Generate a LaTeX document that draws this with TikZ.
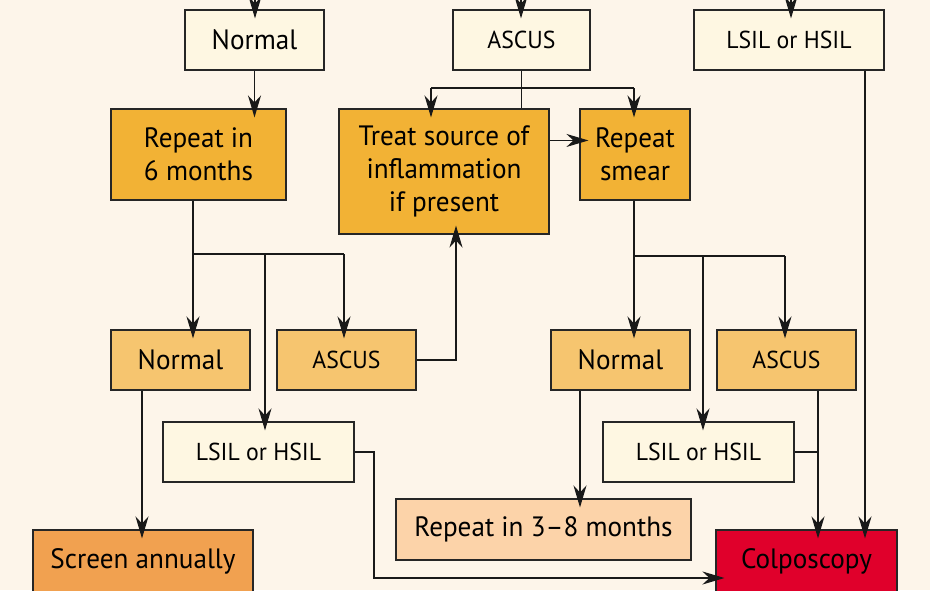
\documentclass[tikz,border=0pt]{standalone}
\usepackage{fontspec}
\setmainfont{PT Sans}[FakeStretch=0.97]
\usetikzlibrary{arrows.meta,calc}
\definecolor{bgc}{HTML}{FDF5EA}
\definecolor{lightc}{HTML}{FEF7E2}
\definecolor{darkc}{HTML}{F2B235}
\definecolor{midc}{HTML}{F6C56F}
\definecolor{screenc}{HTML}{F1A150}
\definecolor{peachc}{HTML}{FCD3A9}
\definecolor{redc}{HTML}{E0002B}
\tikzset{
  box/.style={draw=black!85, line width=1.1pt, inner sep=0pt, align=center,
    font=\fontsize{28}{33}\selectfont},
  smallbox/.style={box, font=\fontsize{24.5}{28}\selectfont},
  conn/.style={draw=black!90, line width=1.2pt},
  arr/.style={conn, -{Stealth[length=22pt,width=13pt,inset=7pt]}, shorten >=-9pt},
}
\begin{document}
\begin{tikzpicture}[x=1pt,y=-1pt]
\useasboundingbox (0,0) rectangle (930,590);
\clip (0,0) rectangle (930,590);
\fill[bgc] (0,0) rectangle (930,590);

% top row
\node[box, fill=lightc, minimum width=139pt, minimum height=60pt] (n1) at (254.5,40) {Normal};
\node[smallbox, fill=lightc, minimum width=137pt, minimum height=60pt] (a1) at (521.5,40) {ASCUS};
\node[smallbox, fill=lightc, minimum width=190pt, minimum height=60pt] (l1) at (789,40) {LSIL or HSIL};
% second row
\node[box, fill=darkc, minimum width=175pt, minimum height=91pt] (r6) at (198.5,154.5) {Repeat in\\6 months};
\node[box, fill=darkc, minimum width=210pt, minimum height=125pt] (tr) at (444,171.5) {Treat source of\\inflammation\\if present};
\node[box, fill=darkc, minimum width=110pt, minimum height=91pt] (rs) at (635,154.5) {Repeat\\smear};
% third row
\node[box, fill=midc, minimum width=139pt, minimum height=60pt] (nl) at (180.5,360) {Normal};
\node[smallbox, fill=midc, minimum width=139pt, minimum height=60pt] (al) at (346.5,360) {ASCUS};
\node[box, fill=midc, minimum width=139pt, minimum height=60pt] (nr) at (620.5,360) {Normal};
\node[smallbox, fill=midc, minimum width=139pt, minimum height=60pt] (ar) at (786.5,360) {ASCUS};
% fourth row
\node[smallbox, fill=lightc, minimum width=191pt, minimum height=60pt] (ll) at (258.5,452) {LSIL or HSIL};
\node[smallbox, fill=lightc, minimum width=191pt, minimum height=60pt] (lr) at (698.5,452) {LSIL or HSIL};
% bottom
\node[box, fill=peachc, minimum width=295pt, minimum height=61pt] (r38) at (543.5,529.5) {Repeat in 3--8 months};
\node[box, fill=screenc, minimum width=220pt, minimum height=62pt] (sa) at (143,561) {Screen annually};
\node[box, fill=redc, minimum width=181pt, minimum height=62pt] (co) at (806.5,561) {Colposcopy};

% coordinates
\coordinate (t1) at (255,-5);
\coordinate (t2) at (521,-5);
\coordinate (t3) at (791,-5);
\coordinate (aL) at (431,88);
\coordinate (aR) at (634,88);
\coordinate (trA) at ([yshift=-32pt]tr.north east);
\coordinate (b1) at (193,254);
\coordinate (b2) at (265,254);
\coordinate (b3) at (344,254);
\coordinate (c1) at (456,358);
\coordinate (d1) at (374,578);
\coordinate (e1) at (142,0);
\coordinate (f1) at (634,256);
\coordinate (f2) at (703,256);
\coordinate (f3) at (785,256);
\coordinate (g1) at (580,0);
\coordinate (h1) at (818,0);
\coordinate (k1) at (865,0);

% top entries
\draw[arr] (t1) -- (t1 |- n1.north);
\draw[arr] (t2) -- (t2 |- a1.north);
\draw[arr] (t3) -- (t3 |- l1.north);

\draw[arr] (n1.south) -- (n1.south |- r6.north);
\draw[conn] (a1.south) -- (a1.south |- tr.north);
\draw[conn] (aL) -- (aR);
\draw[arr] (aL) -- (aL |- tr.north);
\draw[arr] (aR) -- (aR |- rs.north);
\draw[arr] (trA) -- (trA -| rs.west);

% left branch
\draw[conn] (b1 |- r6.south) -- (b1) -- (b3);
\draw[arr] (b1) -- (b1 |- nl.north);
\draw[arr] (b2) -- (b2 |- ll.north);
\draw[arr] (b3) -- (b3 |- al.north);
\draw[arr] (al.east) -- (c1 |- al.east) -- (c1 |- tr.south);
\draw[arr] (ll.east) -- (d1 |- ll.east) -- (d1) -- (d1 -| co.west);
\draw[arr] (e1 |- nl.south) -- (e1 |- sa.north);

% right branch
\draw[conn] (f1 |- rs.south) -- (f1) -- (f3);
\draw[arr] (f1) -- (f1 |- nr.north);
\draw[arr] (f2) -- (f2 |- lr.north);
\draw[arr] (f3) -- (f3 |- ar.north);
\draw[arr] (g1 |- nr.south) -- (g1 |- r38.north);
\draw[arr] (h1 |- ar.south) -- (h1 |- co.north);
\draw[conn] (lr.east) -- (h1 |- lr.east);
\draw[arr] (k1 |- l1.south) -- (k1 |- co.north);
\end{tikzpicture}
\end{document}
